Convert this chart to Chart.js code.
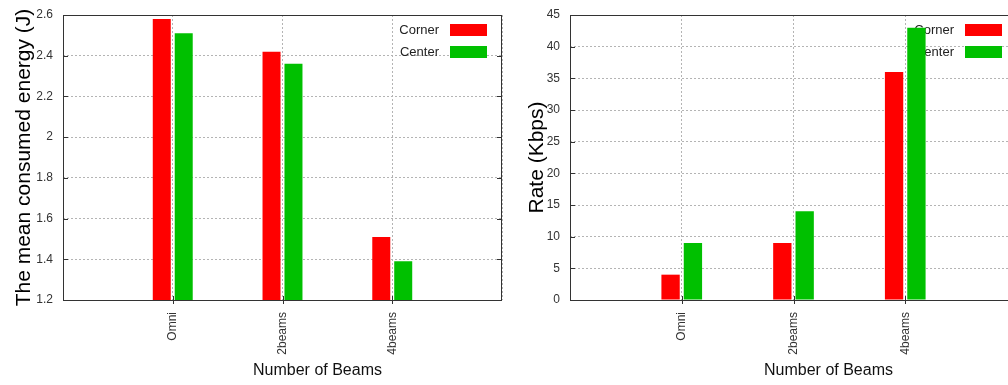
<!DOCTYPE html>
<html lang="en">
<head>
<meta charset="UTF-8">
<title>Energy and rate vs number of beams</title>
<script src="https://cdn.jsdelivr.net/npm/chart.js"></script>
<style>
    body {
        margin: 0;
        width: 1008px;
        height: 385px;
        overflow: hidden;
        background: #fff;
        position: relative;
    }
    .panel { position: absolute; top: 0; width: 510px; height: 385px; }
    #leftPanel { left: 0; }
    #rightPanel { left: 510px; }
</style>
</head>
<body>
<div class="panel" id="leftPanel"><canvas id="energyChart" width="510" height="385"></canvas></div>
<div class="panel" id="rightPanel"><canvas id="rateChart" width="510" height="385"></canvas></div>

<script>
// empty slots at both ends give the gnuplot-like margin left and right of the groups
const beams = ['', 'Omni', '2beams', '4beams', ''];

const energyCorner = [null, 2.58, 2.42, 1.51, null];
const energyCenter = [null, 2.51, 2.36, 1.39, null];
const energyTicks = [1.2, 1.4, 1.6, 1.8, 2, 2.2, 2.4, 2.6];

const rateCorner = [null, 4, 9, 36, null];
const rateCenter = [null, 9, 14, 43, null];
const rateTicks = [0, 5, 10, 15, 20, 25, 30, 35, 40, 45];

const FONT = "'Liberation Sans', Arial, sans-serif";
Chart.defaults.font.family = FONT;

// legend inside the plot (under the bars), frame, small inner ticks, shifted x title
const gnuplotLook = {
    id: 'gnuplotLook',
    beforeDatasetsDraw(chart) {
        const { ctx, chartArea } = chart;
        ctx.save();
        ctx.font = '13px ' + FONT;
        ctx.textAlign = 'right';
        ctx.textBaseline = 'middle';
        chart.data.datasets.forEach((ds, i) => {
            const boxRight = chartArea.right - 15;
            const boxTop = chartArea.top + 9 + i * 22;
            ctx.fillStyle = ds.backgroundColor;
            ctx.fillRect(boxRight - 37, boxTop, 37, 12);
            ctx.fillStyle = '#222';
            ctx.fillText(ds.label, boxRight - 48, boxTop + 6);
        });
        ctx.restore();
    },
    afterDatasetsDraw(chart) {
        const { ctx, chartArea } = chart;
        const { left, right, top, bottom } = chartArea;
        ctx.save();
        ctx.strokeStyle = '#333';
        ctx.lineWidth = 1;
        ctx.strokeRect(left + 0.5, top + 0.5, right - left - 1, bottom - top);

        ctx.beginPath();
        chart.scales.y.ticks.forEach(t => {
            const y = Math.round(chart.scales.y.getPixelForValue(t.value)) + 0.5;
            ctx.moveTo(left, y); ctx.lineTo(left + 5, y);
            ctx.moveTo(right - 5, y); ctx.lineTo(right, y);
        });
        chart.scales.x.ticks.forEach((t, i) => {
            if (!beams[i]) return;
            const x = Math.round(chart.scales.x.getPixelForTick(i)) + 0.5;
            ctx.moveTo(x, bottom - 4); ctx.lineTo(x, bottom + 4);
        });
        ctx.stroke();
        ctx.restore();
    },
    afterDraw(chart) {
        const { ctx, chartArea } = chart;
        ctx.save();
        ctx.font = '16px ' + FONT;
        ctx.fillStyle = '#111';
        ctx.textAlign = 'center';
        ctx.textBaseline = 'middle';
        ctx.fillText(chart.options.scales.x.title.text, (chartArea.left + chartArea.right) / 2 + 35, 371);
        ctx.restore();
    }
};

function makeChart(id, corner, center, yTicks, yTitle, yWidth, titlePad, rightPad) {
    return new Chart(document.getElementById(id), {
        type: 'bar',
        data: {
            labels: beams,
            datasets: [
                { label: 'Corner', data: corner, backgroundColor: '#ff0000', borderWidth: 0,
                  categoryPercentage: 0.4, barPercentage: 0.82 },
                { label: 'Center', data: center, backgroundColor: '#00c000', borderWidth: 0,
                  categoryPercentage: 0.4, barPercentage: 0.82 }
            ]
        },
        options: {
            responsive: false,
            animation: false,
            layout: { padding: { top: 15, right: rightPad, left: 0, bottom: 0 } },
            plugins: { legend: { display: false }, tooltip: { enabled: false } },
            scales: {
                x: {
                    offset: false,
                    title: { display: false, text: 'Number of Beams' },
                    grid: { color: '#b4b4b4', lineWidth: 1, drawTicks: false, offset: false },
                    border: { display: false, dash: [2, 2] },
                    ticks: {
                        autoSkip: false, minRotation: 90, maxRotation: 90,
                        padding: 12, color: '#333', font: { size: 12 }
                    },
                    afterFit(scale) {
                        scale.height = 85;
                        scale.paddingLeft = 0;
                        scale.paddingRight = 0;
                    }
                },
                y: {
                    min: yTicks[0],
                    max: yTicks[yTicks.length - 1],
                    title: { display: true, text: yTitle, color: '#000',
                             font: { size: 21 }, padding: { top: titlePad, bottom: 0 } },
                    grid: { color: '#b4b4b4', lineWidth: 1, drawTicks: false },
                    border: { display: false, dash: [2, 2] },
                    ticks: { padding: 10, color: '#333', font: { size: 12 },
                             callback: v => String(v) },
                    afterBuildTicks(scale) { scale.ticks = yTicks.map(v => ({ value: v })); },
                    afterFit(scale) {
                        scale.width = yWidth;
                        scale.paddingTop = 0;
                        scale.paddingBottom = 0;
                    }
                }
            }
        },
        plugins: [gnuplotLook]
    });
}

makeChart('energyChart', energyCorner, energyCenter, energyTicks,
          'The mean consumed energy (J)', 63, 12, 8);
makeChart('rateChart', rateCorner, rateCenter, rateTicks,
          'Rate (Kbps)', 60, 15, 3);
</script>
</body>
</html>
